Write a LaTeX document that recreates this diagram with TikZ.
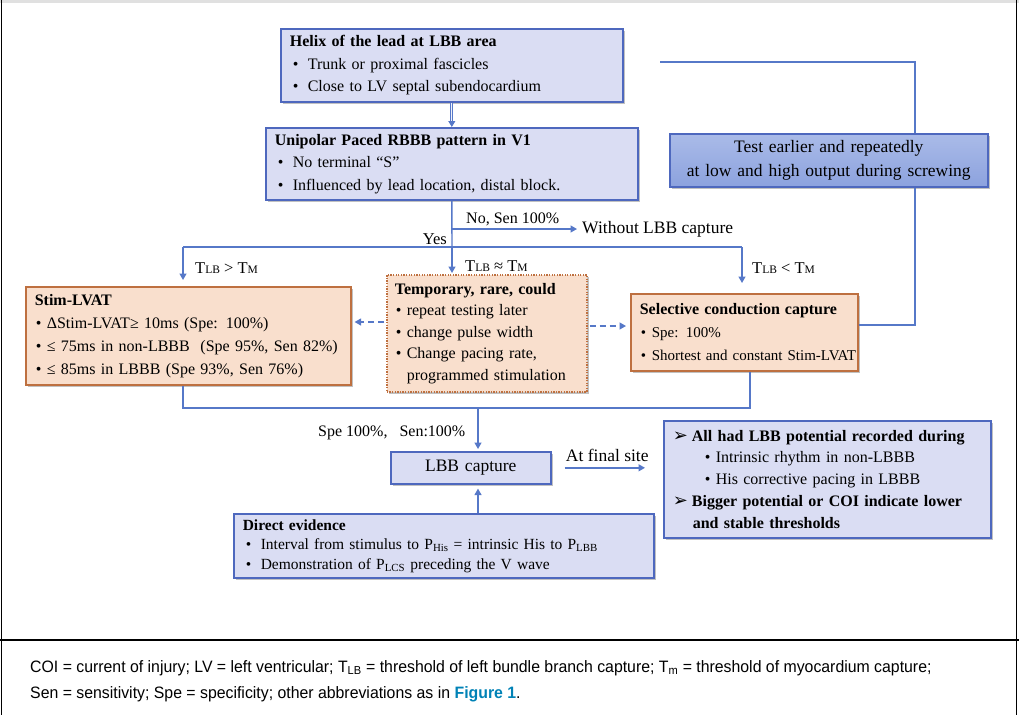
\documentclass[tikz,border=0pt]{standalone}
\usepackage{fontspec}
\setmainfont{Liberation Serif}
\newfontfamily\capfont[FakeStretch=0.96]{Liberation Sans}
\newfontfamily\symfont{DejaVu Sans}
\usetikzlibrary{shadows,arrows.meta}
\definecolor{bord}{RGB}{78,104,190}
\definecolor{lav}{RGB}{218,221,243}
\definecolor{tboxtop}{RGB}{170,187,232}
\definecolor{tboxbot}{RGB}{140,162,222}
\definecolor{peach}{RGB}{249,223,205}
\definecolor{orng}{RGB}{190,112,64}
\definecolor{lnk}{RGB}{86,120,200}
\definecolor{figc}{RGB}{0,130,182}
\newcommand\bl{\hspace*{3pt}\makebox[15pt][l]{•}}
\newcommand\bs{\hspace*{1pt}\makebox[11pt][l]{•}}
\newcommand\smc[1]{{\fontsize{11.5}{11}\selectfont #1}}
\newcommand\arw{{\symfont\fontsize{18}{15}\selectfont ➢}}
\tikzset{
  shad/.style={drop shadow={shadow xshift=2pt,shadow yshift=-2.5pt,opacity=0.35,fill=black!70}},
  bluebox/.style={draw=bord,line width=1.6pt,fill=lav,shad,anchor=north west,inner xsep=9pt,inner ysep=0pt,align=left,font=\fontsize{16}{22.5}\selectfont},
  peachbox/.style={bluebox,draw=orng,fill=peach},
  link/.style={draw=lnk,line width=1.4pt},
  arr/.style={link,-{Triangle[length=6.5pt,width=7pt]}},
  dasharr/.style={arr,dash pattern=on 6pt off 4pt},
  lbl/.style={inner sep=0pt,font=\fontsize{16.5}{18}\selectfont}
}
\begin{document}
\begin{tikzpicture}[x=1pt,y=-1pt]
\useasboundingbox (0,0) rectangle (1019,715);
\fill[black!12] (0,0) rectangle (1019,3);
\draw[line width=1.6pt] (1.5,0) -- (1.5,715);
\draw[line width=1.6pt] (1016.5,0) -- (1016.5,715);
\draw[line width=1.8pt] (0,640) -- (1019,640);

% boxes
\node[bluebox,text width=324pt,minimum height=73pt] (helix) at (280,28)
 {\textbf{Helix of the lead at LBB area}\\ \bl Trunk or proximal fascicles\\ \bl Close to LV septal subendocardium};
\node[bluebox,text width=354pt,minimum height=72pt] (rbbb) at (265,127)
 {\textbf{Unipolar Paced RBBB pattern in V1}\\ \bl No terminal “S”\\ \bl Influenced by lead location, distal block.};
\node[bluebox,text width=300pt,minimum height=53pt,align=center,top color=tboxtop,bottom color=tboxbot,font=\fontsize{17.5}{23.5}\selectfont] (test) at (669,133)
 {Test earlier and repeatedly\\ at low and high output during screwing};
\node[peachbox,text width=307pt,minimum height=98pt,font=\fontsize{16}{23}\selectfont] (stim) at (25,286)
 {\textbf{Stim-LVAT}\\ \bs ΔStim-LVAT≥ 10ms (Spe: 100\%)\\ \mbox{\bs ≤ 75ms in non-LBBB\ \ (Spe 95\%, Sen 82\%)}\\ \bs ≤ 85ms in LBBB (Spe 93\%, Sen 76\%)};
\node[peachbox,text width=184pt,inner xsep=8pt,minimum height=117pt,dash pattern=on 1.3pt off 1.3pt,font=\fontsize{16}{21.5}\selectfont] (temp) at (386,274)
 {\textbf{Temporary, rare, could}\\ \bs repeat testing later\\ \bs change pulse width\\ \bs Change pacing rate,\\ \hspace*{12pt}programmed stimulation};
\node[peachbox,text width=209pt,inner xsep=9pt,minimum height=77pt,font=\fontsize{15}{23}\selectfont] (sel) at (630,293)
 {\mbox{\fontsize{16}{23}\selectfont\textbf{Selective conduction capture}}\\ \bs Spe: 100\%\\ \mbox{\bs Shortest and constant Stim-LVAT}};
\node[bluebox,text width=142pt,minimum height=32pt,align=center,font=\fontsize{17.5}{20}\selectfont] (lbb) at (390,451)
 {LBB capture};
\node[bluebox,text width=309pt,minimum height=117pt,font=\fontsize{16}{21.8}\selectfont] (rbox) at (663,420)
 {\mbox{\textbf{\arw\hspace{4pt}All had LBB potential recorded during}}\\
  \hspace*{32pt}\makebox[11pt][l]{•}Intrinsic rhythm in non-LBBB\\
  \hspace*{32pt}\makebox[11pt][l]{•}His corrective pacing in LBBB\\
  \mbox{\textbf{\arw\hspace{4pt}Bigger potential or COI indicate lower}}\\
  \hspace*{20pt}\textbf{and stable thresholds}};
\node[bluebox,text width=402pt,minimum height=64pt,font=\fontsize{15.5}{19.5}\selectfont] (direct) at (233,513)
 {\textbf{Direct evidence}\\ \mbox{\bl Interval from stimulus to P\textsubscript{His} = intrinsic His to P\textsubscript{LBB}}\\ \bl Demonstration of P\textsubscript{LCS} preceding the V wave};

% coordinates
\coordinate (br) at (452,247);
\coordinate (nob) at (452,229);
\coordinate (L) at (183,247);
\coordinate (R) at (742,247);
\coordinate (L2) at (183,408);
\coordinate (R2) at (750,408);
\coordinate (m) at (478,408);
\coordinate (loop) at (915,325);
\coordinate (looptop) at (915,62);
\coordinate (loopend) at (660,62);

% labels
\node[lbl,anchor=west,font=\fontsize{17.5}{20}\selectfont] (nolbb) at (582,229) {Without LBB capture};
\node[lbl,anchor=base west,font=\fontsize{16}{18}\selectfont] (nolab) at (466,223) {No, Sen 100\%};
\node[lbl,anchor=base east] (yes) at (447,244) {Yes};
\node[lbl,anchor=base west] (t1) at (195,273) {T\smc{LB} > T\smc{M}};
\node[lbl,anchor=base west] (t2) at (465,271) {T\smc{LB} ≈ T\smc{M}};
\node[lbl,anchor=base west] (t3) at (752,273) {T\smc{LB} < T\smc{M}};
\node[lbl,anchor=base west,font=\fontsize{16}{18}\selectfont] (spe) at (318,436) {Spe 100\%,\ \ \ Sen:100\%};

% connectors
\draw[link,double=lav!40,double distance=1pt,line width=1pt,-{Triangle[length=6pt,width=7pt]}] (helix.south) -- (rbbb.north);
\draw[link] (rbbb.south) -- (br);
\draw[arr,shorten >=5pt] (nob) -- (nolbb.west);
\draw[link] (L) -- (R);
\draw[arr,shorten >=6pt] (L) -- (L |- stim.north);
\draw[arr,shorten >=1pt] (br) -- (br |- temp.north);
\draw[arr,shorten >=10pt] (R) -- (R |- sel.north);
\draw[dasharr,shorten <=2pt,shorten >=3pt] (temp.west |- 0,322) -- (stim.east |- 0,322);
\draw[dasharr,shorten <=2pt,shorten >=4pt] (temp.east |- 0,326) -- (sel.west |- 0,326);
\draw[link] (L |- stim.south) -- (L2) -- (R2) -- (R2 |- sel.south);
\draw[arr,shorten >=2pt] (m) -- (m |- lbb.north);
\draw[arr,shorten >=4pt] (m |- direct.north) -- (m |- lbb.south);
\draw[arr,shorten <=13pt,shorten >=18pt] (lbb.east) -- node[lbl,above=5pt,font=\fontsize{17.5}{20}\selectfont] (fin) {At final site} (lbb.east -| rbox.west);
\draw[link] (sel.east |- loop) -- (loop) -- (loop |- test.south);
\draw[link] (loop |- test.north) -- (looptop) -- (loopend);

% caption
\node[anchor=base west,inner sep=0pt,font=\capfont\fontsize{16.5}{20}\selectfont] (cap1) at (30,672)
 {COI = current of injury; LV = left ventricular; T\textsubscript{LB} = threshold of left bundle branch capture; T\textsubscript{m} = threshold of myocardium capture;};
\node[anchor=base west,inner sep=0pt,font=\capfont\fontsize{16.5}{20}\selectfont] (cap2) at (30,698)
 {Sen = sensitivity; Spe = specificity; other abbreviations as in \textcolor{figc}{\textbf{Figure 1}}.};
\end{tikzpicture}
\end{document}
